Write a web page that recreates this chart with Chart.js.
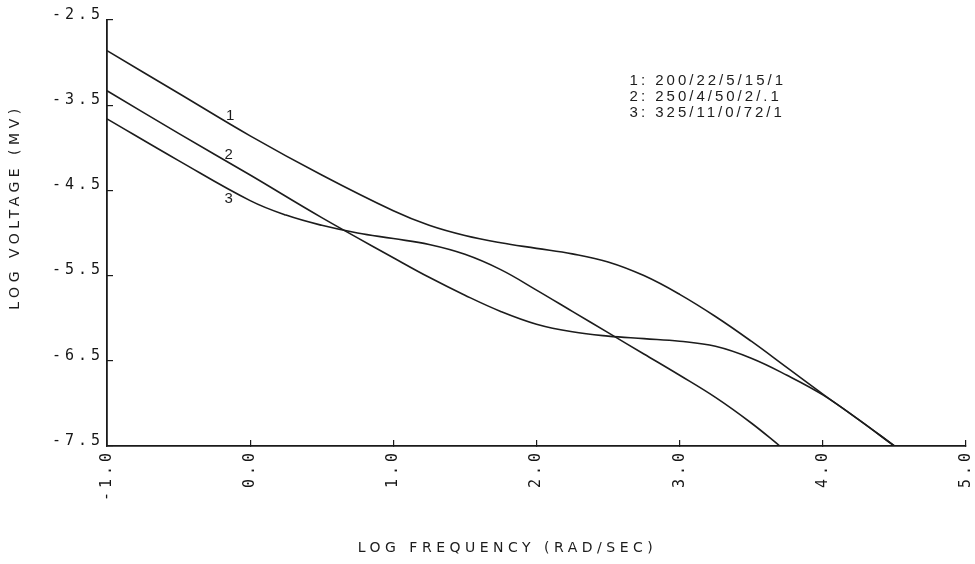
<!DOCTYPE html>
<html>
<head>
<meta charset="utf-8">
<script src="https://cdn.jsdelivr.net/npm/chart.js@4"></script>
<style>
html, body { margin: 0; padding: 0; background: #ffffff; }
canvas { display: block; }
</style>
</head>
<body>
<canvas id="c" width="975" height="564"></canvas>
<script>
// ---- data ----
const xTickValues = [-1, 0, 1, 2, 3, 4, 5];
const yTickValues = [-7.5, -6.5, -5.5, -4.5, -3.5, -2.5];
const seriesNames = ['1', '2', '3'];
const legendLines = ['1: 200/22/5/15/1', '2: 250/4/50/2/.1', '3: 325/11/0/72/1'];
const xTitle = 'LOG FREQUENCY (RAD/SEC)';
const yTitle = 'LOG VOLTAGE (MV)';

const freq1 = [-1.0, -0.5, 0.0, 0.5, 1.0, 1.25, 1.5, 1.75, 2.0, 2.25, 2.5, 2.75, 3.0, 3.25, 3.5, 3.75, 4.0, 4.25, 4.5];
const volt1 = [-2.86, -3.36, -3.86, -4.32, -4.74, -4.91, -5.03, -5.115, -5.18, -5.245, -5.34, -5.50, -5.72, -5.98, -6.27, -6.58, -6.89, -7.19, -7.50];

const freq2 = [-1.0, -0.5, 0.0, 0.5, 1.0, 1.25, 1.5, 1.75, 2.0, 2.25, 2.5, 2.75, 3.0, 3.25, 3.5, 3.75, 4.0, 4.25, 4.5];
const volt2 = [-3.33, -3.83, -4.32, -4.82, -5.29, -5.52, -5.73, -5.92, -6.07, -6.16, -6.21, -6.24, -6.27, -6.33, -6.47, -6.67, -6.90, -7.19, -7.50];

const freq3 = [-1.0, -0.5, 0.0, 0.25, 0.5, 0.75, 1.0, 1.25, 1.5, 1.75, 2.0, 2.25, 2.5, 2.75, 3.0, 3.25, 3.5, 3.7];
const volt3 = [-3.66, -4.15, -4.62, -4.79, -4.91, -5.00, -5.065, -5.135, -5.25, -5.43, -5.67, -5.92, -6.17, -6.42, -6.67, -6.93, -7.23, -7.50];

// ---- build chart ----
const toPoints = (xs, ys) => xs.map((x, i) => ({ x: x, y: ys[i] }));
const seriesData = [toPoints(freq1, volt1), toPoints(freq2, volt2), toPoints(freq3, volt3)];

const annot = {
  curveLabels: [[-0.14, -3.63], [-0.15, -4.08], [-0.15, -4.60]],
  legendX: 2.65,
  legendY: [-3.21, -3.40, -3.59]
};

const textPlugin = {
  id: 'plotText',
  beforeDraw(chart) {
    chart.ctx.letterSpacing = '4px';
  },
  afterDraw(chart) {
    const ctx = chart.ctx;
    const xs = chart.scales.x, ys = chart.scales.y;
    const area = chart.chartArea;
    ctx.save();
    ctx.fillStyle = '#1c1c1c';
    ctx.textBaseline = 'middle';
    ctx.textAlign = 'center';
    ctx.letterSpacing = '0px';
    ctx.font = '15px "Liberation Sans", Arial, sans-serif';
    annot.curveLabels.forEach((p, i) => {
      ctx.fillText(seriesNames[i], xs.getPixelForValue(p[0]), ys.getPixelForValue(p[1]));
    });
    ctx.textAlign = 'left';
    ctx.letterSpacing = '3px';
    legendLines.forEach((t, i) => {
      ctx.fillText(t, xs.getPixelForValue(annot.legendX), ys.getPixelForValue(annot.legendY[i]));
    });
    // axis titles
    ctx.font = '14px "DejaVu Sans", sans-serif';
    ctx.letterSpacing = '4.5px';
    ctx.textAlign = 'center';
    ctx.fillText(xTitle, (area.left + area.right) / 2 - 29, chart.height - 16);
    ctx.save();
    ctx.translate(15, (area.top + area.bottom) / 2 - 26);
    ctx.rotate(-Math.PI / 2);
    ctx.fillText(yTitle, 0, 0);
    ctx.restore();
    ctx.restore();
    ctx.letterSpacing = '0px';
  }
};

const axisColor = '#1a1a1a';
const tickFont = { family: '"DejaVu Sans Mono", monospace', size: 15 };

new Chart(document.getElementById('c'), {
  type: 'scatter',
  data: {
    datasets: seriesData.map((pts, i) => ({
      label: seriesNames[i],
      data: pts,
      showLine: true,
      fill: false,
      borderColor: '#1c1c1c',
      borderWidth: 1.6,
      pointRadius: 0,
      pointHoverRadius: 0,
      tension: 0.4
    }))
  },
  options: {
    responsive: false,
    animation: false,
    events: [],
    layout: { padding: { left: 0, right: 9, top: 20, bottom: 0 } },
    plugins: {
      legend: { display: false },
      tooltip: { enabled: false },
      title: { display: false }
    },
    scales: {
      x: {
        type: 'linear',
        min: -1,
        max: 5,
        afterBuildTicks: s => { s.ticks = xTickValues.map(v => ({ value: v })); },
        afterFit: s => { s.height = 118; s.paddingLeft = 0; s.paddingRight = 0; },
        grid: { display: true, drawOnChartArea: false, drawTicks: true, tickLength: -6, color: axisColor, lineWidth: 1.2 },
        border: { display: true, color: axisColor, width: 1.8 },
        ticks: {
          autoSkip: false,
          minRotation: 90,
          maxRotation: 90,
          padding: 9,
          color: '#161616',
          font: tickFont,
          callback: v => Number(v).toFixed(1)
        },
        title: { display: false, text: xTitle }
      },
      y: {
        type: 'linear',
        min: -7.5,
        max: -2.5,
        afterBuildTicks: s => { s.ticks = yTickValues.map(v => ({ value: v })); },
        afterFit: s => { s.width = 107; },
        grid: { display: true, drawOnChartArea: false, drawTicks: true, tickLength: -6, color: axisColor, lineWidth: 1.2 },
        border: { display: true, color: axisColor, width: 1.8 },
        ticks: {
          autoSkip: false,
          padding: 9,
          labelOffset: -5,
          color: '#161616',
          font: tickFont,
          callback: v => Number(v).toFixed(1)
        },
        title: { display: false, text: yTitle }
      }
    }
  },
  plugins: [textPlugin]
});
</script>
</body>
</html>
